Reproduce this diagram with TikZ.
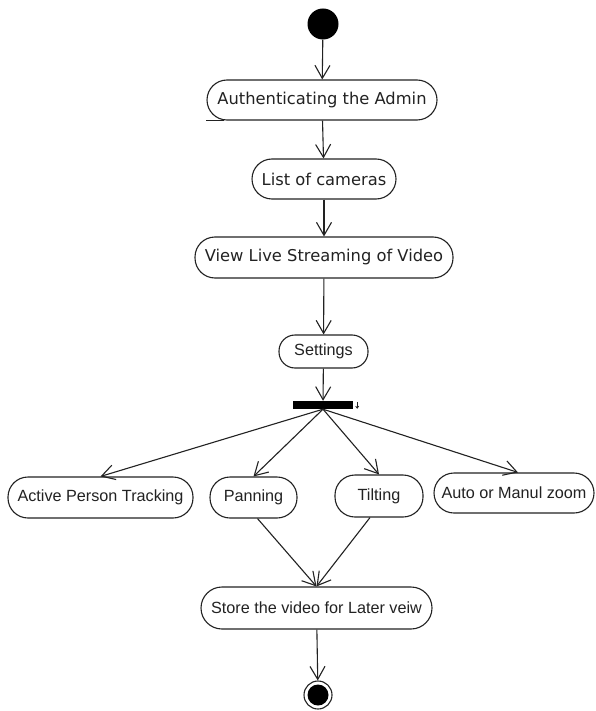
\documentclass[tikz,border=0pt]{standalone}
\usepackage{fontspec}
\setmainfont{Liberation Sans}
\newfontfamily\dejavu{DejaVu Sans}
\usetikzlibrary{arrows.meta,calc}
\definecolor{ink}{HTML}{222222}
\tikzset{
  act/.style={draw=ink, line width=1.1pt, fill=white, inner sep=0pt, text=ink,
    font=\fontsize{16.2}{19}\selectfont},
  actdv/.style={act, font=\dejavu\fontsize{16.3}{19}\selectfont},
  arr/.style={draw=ink, line width=1.1pt, -{Straight Barb[length=13pt,width=15pt,line width=1.1pt]}},
}
\begin{document}
\begin{tikzpicture}[x=1pt,y=-1pt]
\useasboundingbox (0,0) rectangle (595,711);
\fill[white] (0,0) rectangle (595,711);
% start
\node[circle, fill=black, minimum size=31pt, inner sep=0pt] (start) at (323,24) {};
% activities
\node[actdv, minimum width=230pt, minimum height=40pt, rounded corners=20pt] (auth) at (322,100) {Authenticating the Admin};
\draw[draw=ink, line width=1.1pt] (auth.south west) -- ++(18,0);
\node[actdv, minimum width=144pt, minimum height=40pt, rounded corners=20pt] (list) at (324,179) {List of cameras};
\node[actdv, minimum width=258pt, minimum height=41pt, rounded corners=20pt] (view) at (324,257.5) {View Live Streaming of Video};
\node[act, minimum width=89pt, minimum height=33pt, rounded corners=16pt] (set) at (323.5,351.5) {Settings};
% fork bar
\node[fill=black, minimum width=60pt, minimum height=8pt, inner sep=0pt] (bar) at (323,405) {};
\coordinate (mk) at ($(bar.north east)+(4,1)$);
\draw[draw=ink, line width=0.8pt, -{Straight Barb[length=2pt,width=3pt]}] (mk) -- ++(0,7);
% branches
\node[act, minimum width=185pt, minimum height=41pt, rounded corners=20pt] (apt) at (100.5,497.5) {Active Person Tracking};
\node[act, minimum width=87pt, minimum height=41pt, rounded corners=20pt] (pan) at (253.5,497.5) {Panning};
\node[act, minimum width=88pt, minimum height=42pt, rounded corners=20pt] (tilt) at (379,496) {Tilting};
\node[act, minimum width=160pt, minimum height=40pt, rounded corners=20pt] (zoom) at (514,493) {Auto or Manul zoom};
\node[act, minimum width=231pt, minimum height=42pt, rounded corners=21pt] (store) at (316.5,608) {Store the video for Later veiw};
% end
\node[circle, draw=ink, line width=1.1pt, minimum size=28pt, inner sep=0pt] (end) at (318,695) {};
\fill[black] (end.center) circle (10.5pt);
% connectors
\draw[arr] (start) -- (auth);
\draw[arr] (auth) -- (list);
\draw[arr] (list) -- (view);
\draw[arr] (view) -- (set);
\draw[arr] (set) -- (bar);
\draw[arr] (bar.south) -- (apt.north);
\draw[arr] (bar.south) -- (pan.north);
\draw[arr] (bar.south) -- (tilt.north);
\draw[arr] (bar.south) -- ($(zoom.north)+(4,0)$);
\draw[arr] ($(pan.south)+(4,0)$) -- (store.north);
\draw[arr] ($(tilt.south)+(-9,0)$) -- (store.north);
\draw[arr] (store) -- (end);
\end{tikzpicture}
\end{document}
